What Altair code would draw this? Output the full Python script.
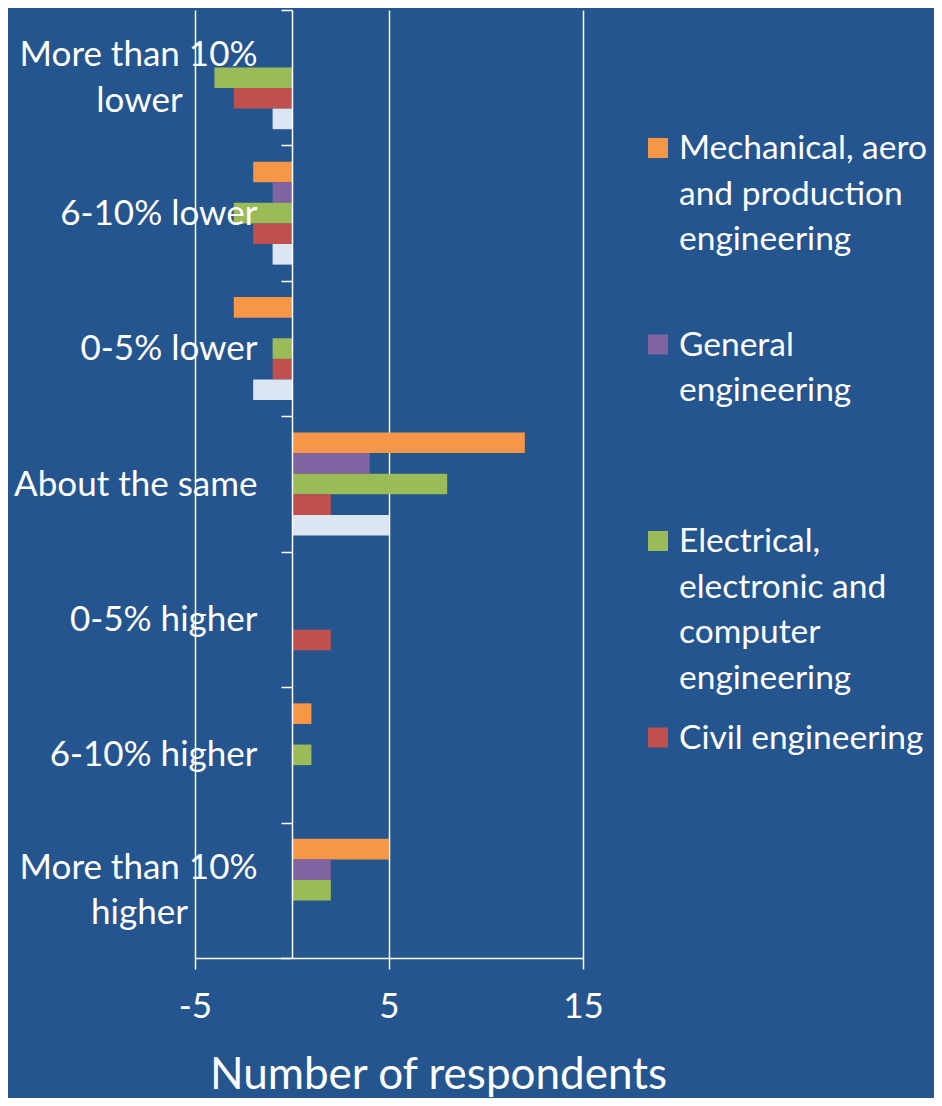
import altair as alt
import pandas as pd

# ---------------- data ----------------
categories = [
    "More than 10% lower",
    "6-10% lower",
    "0-5% lower",
    "About the same",
    "0-5% higher",
    "6-10% higher",
    "More than 10% higher",
]
series = [
    "Mechanical, aero and production engineering",
    "General engineering",
    "Electrical, electronic and computer engineering",
    "Civil engineering",
    "Other",
]
colors = ["#f79646", "#8064a2", "#9bbb59", "#c0504d", "#dce6f2"]

mechanical = [0, -2, -3, 12, 0, 1, 5]
general = [0, -1, 0, 4, 0, 0, 2]
electrical = [-4, -3, -1, 8, 0, 1, 2]
civil = [-3, -2, -1, 2, 2, 0, 0]
other = [-1, -1, -2, 5, 0, 0, 0]

x_ticks = [-5, 5, 15]

# wrapped category labels (as displayed)
category_lines = {
    "More than 10% lower": ["More than 10%", "lower"],
    "More than 10% higher": ["More than 10%", "higher"],
}
legend_lines = [
    ["Mechanical, aero", "and production", "engineering"],
    ["General", "engineering"],
    ["Electrical,", "electronic and", "computer", "engineering"],
    ["Civil engineering"],
]

# ---------------- tables ----------------
values_by_series = [mechanical, general, electrical, civil, other]
rows = []
for s, vals in zip(series, values_by_series):
    for c, v in zip(categories, vals):
        rows.append({"category": c, "series": s, "value": v})
df = pd.DataFrame(rows)

legend_df = pd.DataFrame({
    "series": series[:4],
    "idx": list(range(4)),
    "label": ["\n".join(l) for l in legend_lines],
})


def js_str(s):
    return "'" + s.replace("\\", "\\\\").replace("'", "\\'") + "'"


# first lines (right aligned) and second lines (centred under the first)
expr_first = "datum.value"
expr_second = "''"
for k, lines in category_lines.items():
    expr_first = f"datum.value === {js_str(k)} ? {js_str(lines[0])} : ({expr_first})"
    expr_second = f"datum.value === {js_str(k)} ? {js_str(lines[1])} : ({expr_second})"
two_line_test = " || ".join(f"datum.value === {js_str(k)}" for k in category_lines)

BG = "#24558f"
FONT = "Lato"
FS = 35
LINE_SHIFT = 23

color_enc = alt.Color("series:N", scale=alt.Scale(domain=series, range=colors), legend=None)
y_scale = alt.Scale(paddingInner=0, paddingOuter=0)

bars = alt.Chart(df).mark_bar().encode(
    x=alt.X(
        "value:Q",
        scale=alt.Scale(domain=[-5, 15], nice=False, zero=False),
        axis=alt.Axis(
            values=x_ticks,
            grid=True, gridColor="white", gridWidth=1.5,
            domainColor="white", domainWidth=1.5,
            tickColor="white", tickWidth=1.5, tickSize=11,
            labelColor="white", labelFont=FONT, labelFontSize=FS,
            labelPadding=48, labelBaseline="alphabetic", labelFlush=False,
            labelExpr="'' + datum.value",
            title="Number of respondents",
            titleColor="white", titleFont=FONT, titleFontSize=44,
            titleFontWeight="normal", titleX=243, titleY=130,
            titleAlign="center", titleBaseline="alphabetic",
        ),
    ),
    y=alt.Y(
        "category:N",
        sort=categories,
        scale=y_scale,
        axis=alt.Axis(
            orient="left", title=None, offset=-97, tickBand="extent", grid=False,
            domainColor="white", domainWidth=1.5,
            tickColor="white", tickWidth=1.5, tickSize=11,
            labelColor="white", labelFont=FONT, labelFontSize=FS,
            labelPadding=24, labelLimit=500,
            labelOffset={"condition": {"test": two_line_test, "value": -LINE_SHIFT}, "value": 0},
            labelExpr=expr_first, zindex=1,
        ),
    ),
    yOffset=alt.YOffset("series:N", sort=series,
                        scale=alt.Scale(paddingInner=0, paddingOuter=0.789)),
    color=color_enc,
)

# second axis on the same category scale: carries the centred second lines
second_lines = alt.Chart(df).mark_point(opacity=0).encode(
    y=alt.Y(
        "category:N",
        sort=categories,
        scale=y_scale,
        axis=alt.Axis(
            orient="left", title=None, offset=-97, grid=False,
            domain=False, ticks=False, tickSize=0,
            labelColor="white", labelFont=FONT, labelFontSize=FS,
            labelAlign="center", labelPadding=153, labelOffset=LINE_SHIFT,
            labelLimit=500, labelExpr=expr_second, zindex=1,
        ),
    ),
)

plot = alt.layer(bars, second_lines).resolve_axis(y="independent")

leg_y = alt.Y("idx:Q", scale=alt.Scale(domain=[-0.7023, 4.1221], reverse=True), axis=None)

squares = alt.Chart(legend_df).mark_square(size=400, opacity=1).encode(
    x=alt.value(463),
    y=leg_y,
    color=color_enc,
)

texts = alt.Chart(legend_df).mark_text(
    align="left", baseline="top", dy=-15, lineBreak="\n", lineHeight=45.5,
    font=FONT, fontSize=33.5, color="white",
).encode(
    x=alt.value(484),
    y=leg_y,
    text="label:N",
)

chart = alt.layer(plot, squares, texts).resolve_scale(y="independent").properties(
    width=388,
    height=948,
    autosize=alt.AutoSizeParams(type="none"),
    padding={"left": 187, "top": 2, "right": 351, "bottom": 140},
    background=BG,
).configure_view(stroke=None)

chart.save("out.html", embed_options={"renderer": "svg", "actions": False})
